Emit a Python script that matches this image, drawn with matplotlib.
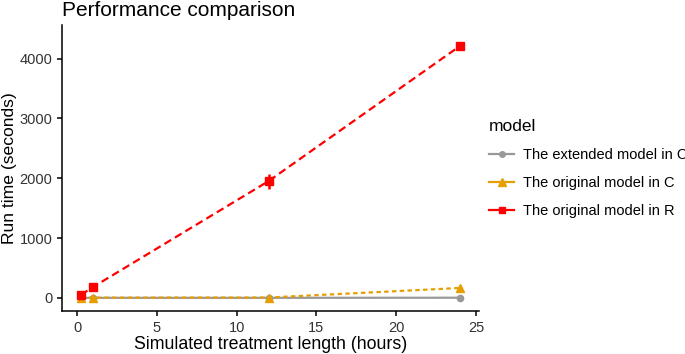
import numpy as np
import matplotlib.pyplot as plt
from matplotlib.lines import Line2D

plt.rcParams['font.family'] = ['Liberation Sans', 'DejaVu Sans']

# -----------------------------
# Daten
# -----------------------------
hours = [0.25, 1, 12, 24]
ext_c = [0, 0, 0, 2]
orig_c = [2, 3, 5, 165]
orig_r = [50, 180, 1950, 4210]
orig_r_err = [10, 15, 125, 20]

labels = ["The extended model in C", "The original model in C", "The original model in R"]
colors = ["#999999", "#E69F00", "#FF0000"]

# -----------------------------
# Plot
# -----------------------------
fig = plt.figure(figsize=(6.85, 3.54), dpi=100)
ax = fig.add_axes([62 / 685, 43 / 354, (479 - 62) / 685, (354 - 43 - 25) / 354])

ax.plot(hours, ext_c, color=colors[0], lw=1.6, ls="-", marker="o", ms=4.5, zorder=2)
ax.plot(hours, orig_c, color=colors[1], lw=1.6, ls=(0, (2, 1.5)), marker="^", ms=6, zorder=3)
ax.errorbar(hours, orig_r, yerr=orig_r_err, color=colors[2], lw=1.6, ls=(0, (3.5, 2)),
            marker="s", ms=5.5, elinewidth=1.8, capsize=0, zorder=4)

ax.set_xlim(-0.94, 25.19)
ax.set_ylim(-220, 4560)
ax.set_xticks([0, 5, 10, 15, 20, 25])
ax.set_yticks([0, 1000, 2000, 3000, 4000])

for s in ["top", "right"]:
    ax.spines[s].set_visible(False)
for s in ["left", "bottom"]:
    ax.spines[s].set_linewidth(1.1)
ax.tick_params(labelsize=10.5, colors="black", labelcolor="#333333", length=3.5, width=1.1)

ax.set_xlabel("Simulated treatment length (hours)", fontsize=12.8, labelpad=1)
ax.set_ylabel("Run time (seconds)", fontsize=12.6)
ax.yaxis.set_label_coords(-0.108, 0.5)
fig.text(62 / 685, 1 - 10 / 354, "Performance comparison", fontsize=15, va="center", ha="left")

handles = [
    Line2D([], [], color=colors[0], lw=1.6, marker="o", ms=4),
    Line2D([], [], color=colors[1], lw=1.6, marker="^", ms=5.5),
    Line2D([], [], color=colors[2], lw=1.6, marker="s", ms=5),
]
leg = fig.legend(handles, labels, title="model", loc="upper left",
                 bbox_to_anchor=(476 / 685, 1 - 106 / 354), frameon=False,
                 fontsize=10.5, title_fontsize=12.5, handlelength=1.7,
                 labelspacing=0.95, handletextpad=0.6)
leg._legend_box.align = "left"

fig.savefig("out.png", dpi=100)
